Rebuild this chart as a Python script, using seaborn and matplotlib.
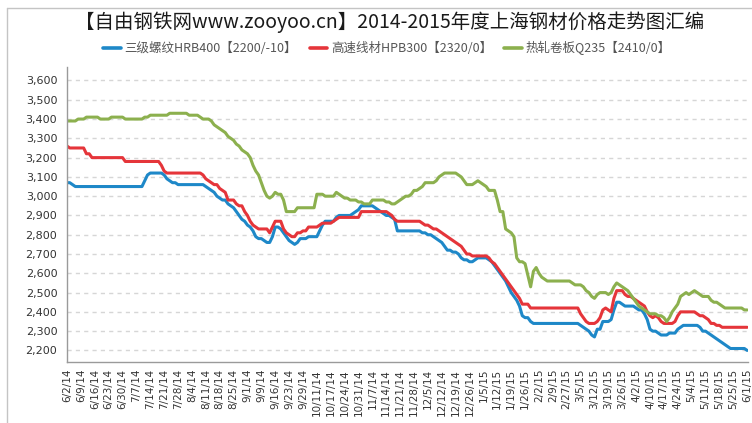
import matplotlib
matplotlib.use("Agg")
import matplotlib.pyplot as plt
import seaborn as sns
import pandas as pd
from matplotlib.lines import Line2D
from matplotlib.ticker import StrMethodFormatter

# ---- data (one value per trading day) ----
tick_labels = ["6/2/14", "6/9/14", "6/16/14", "6/23/14", "6/30/14", "7/7/14", "7/14/14",
               "7/21/14", "7/28/14", "8/4/14", "8/11/14", "8/18/14", "8/25/14", "9/1/14",
               "9/9/14", "9/16/14", "9/23/14", "9/29/14", "10/11/14", "10/17/14", "10/24/14",
               "10/31/14", "11/7/14", "11/14/14", "11/21/14", "11/28/14", "12/5/14", "12/12/14",
               "12/19/14", "12/26/14", "1/5/15", "1/12/15", "1/19/15", "1/26/15", "2/2/15",
               "2/9/15", "2/27/15", "3/5/15", "3/12/15", "3/19/15", "3/26/15", "4/2/15",
               "4/10/15", "4/17/15", "4/24/15", "5/4/15", "5/11/15", "5/18/15", "5/25/15", "6/1/15"]

hrb400 = [
    3070, 3070, 3060, 3050, 3050, 3050, 3050, 3050, 3050, 3050,
    3050, 3050, 3050, 3050, 3050, 3050, 3050, 3050, 3050, 3050,
    3050, 3050, 3050, 3050, 3050, 3050, 3050, 3050, 3080, 3110,
    3120, 3120, 3120, 3120, 3120, 3110, 3090, 3080, 3070, 3070,
    3060, 3060, 3060, 3060, 3060, 3060, 3060, 3060, 3060, 3060,
    3050, 3040, 3030, 3020, 3000, 2990, 2980, 2980, 2960, 2950,
    2940, 2920, 2900, 2880, 2870, 2850, 2840, 2820, 2790, 2780,
    2780, 2770, 2760, 2760, 2790, 2840, 2840, 2830, 2810, 2790,
    2770, 2760, 2750, 2760, 2780, 2780, 2780, 2790, 2790, 2790,
    2790, 2820, 2850, 2870, 2870, 2870, 2870, 2890, 2900, 2900,
    2900, 2900, 2900, 2910, 2920, 2930, 2950, 2950, 2950, 2950,
    2950, 2940, 2930, 2920, 2910, 2900, 2900, 2890, 2880, 2820,
    2820, 2820, 2820, 2820, 2820, 2820, 2820, 2820, 2810, 2810,
    2800, 2800, 2790, 2780, 2770, 2760, 2740, 2720, 2720, 2710,
    2710, 2700, 2680, 2670, 2670, 2660, 2660, 2670, 2680, 2680,
    2680, 2680, 2670, 2660, 2640, 2620, 2600, 2580, 2560, 2530,
    2500, 2480, 2460, 2430, 2380, 2370, 2370, 2350, 2340, 2340,
    2340, 2340, 2340, 2340, 2340, 2340, 2340, 2340, 2340, 2340,
    2340, 2340, 2340, 2340, 2340, 2330, 2320, 2310, 2300, 2280,
    2270, 2310, 2310, 2350, 2350, 2350, 2360, 2410, 2450, 2450,
    2440, 2430, 2430, 2430, 2430, 2420, 2410, 2410, 2390, 2360,
    2310, 2300, 2300, 2290, 2280, 2280, 2280, 2290, 2290, 2290,
    2310, 2320, 2330, 2330, 2330, 2330, 2330, 2330, 2320, 2300,
    2300, 2290, 2280, 2270, 2260, 2250, 2240, 2230, 2220, 2210,
    2210, 2210, 2210, 2210, 2210, 2200,
]

hpb300 = [
    3260, 3250, 3250, 3250, 3250, 3250, 3250, 3220, 3220, 3200,
    3200, 3200, 3200, 3200, 3200, 3200, 3200, 3200, 3200, 3200,
    3200, 3180, 3180, 3180, 3180, 3180, 3180, 3180, 3180, 3180,
    3180, 3180, 3180, 3180, 3160, 3130, 3120, 3120, 3120, 3120,
    3120, 3120, 3120, 3120, 3120, 3120, 3120, 3120, 3120, 3110,
    3090, 3080, 3070, 3060, 3060, 3040, 3030, 3020, 2980, 2980,
    2980, 2960, 2950, 2950, 2920, 2900, 2870, 2850, 2840, 2830,
    2830, 2830, 2830, 2810, 2840, 2870, 2870, 2870, 2830, 2810,
    2800, 2790, 2790, 2810, 2810, 2820, 2820, 2840, 2840, 2840,
    2840, 2850, 2860, 2860, 2860, 2860, 2870, 2880, 2890, 2890,
    2890, 2890, 2890, 2890, 2890, 2890, 2920, 2920, 2920, 2920,
    2920, 2920, 2920, 2920, 2920, 2920, 2910, 2900, 2880, 2870,
    2870, 2870, 2870, 2870, 2870, 2870, 2870, 2870, 2860, 2850,
    2850, 2840, 2830, 2830, 2820, 2810, 2800, 2790, 2780, 2770,
    2760, 2750, 2740, 2720, 2700, 2700, 2690, 2690, 2690, 2690,
    2690, 2690, 2680, 2660, 2650, 2630, 2610, 2590, 2570, 2550,
    2530, 2510, 2490, 2470, 2440, 2440, 2440, 2420, 2420, 2420,
    2420, 2420, 2420, 2420, 2420, 2420, 2420, 2420, 2420, 2420,
    2420, 2420, 2420, 2420, 2420, 2390, 2370, 2350, 2340, 2340,
    2340, 2350, 2370, 2410, 2420, 2410, 2400, 2470, 2510, 2510,
    2510, 2490, 2480, 2480, 2470, 2460, 2450, 2440, 2430, 2400,
    2380, 2370, 2380, 2370, 2350, 2340, 2340, 2340, 2340, 2350,
    2380, 2400, 2400, 2400, 2400, 2400, 2400, 2390, 2380, 2380,
    2370, 2360, 2340, 2340, 2330, 2330, 2320, 2320, 2320, 2320,
    2320, 2320, 2320, 2320, 2320, 2320,
]

q235 = [
    3390, 3390, 3390, 3390, 3400, 3400, 3400, 3410, 3410, 3410,
    3410, 3410, 3400, 3400, 3400, 3400, 3410, 3410, 3410, 3410,
    3410, 3400, 3400, 3400, 3400, 3400, 3400, 3400, 3410, 3410,
    3420, 3420, 3420, 3420, 3420, 3420, 3420, 3430, 3430, 3430,
    3430, 3430, 3430, 3430, 3420, 3420, 3420, 3420, 3410, 3400,
    3400, 3400, 3390, 3370, 3360, 3350, 3340, 3330, 3310, 3300,
    3290, 3270, 3260, 3240, 3230, 3220, 3200, 3160, 3130, 3110,
    3070, 3030, 3000, 2990, 3000, 3020, 3010, 3010, 2980, 2920,
    2920, 2920, 2920, 2940, 2940, 2940, 2940, 2940, 2940, 2940,
    3010, 3010, 3010, 3000, 3000, 3000, 3000, 3020, 3010, 3000,
    2990, 2990, 2980, 2980, 2980, 2970, 2970, 2960, 2960, 2960,
    2980, 2980, 2980, 2980, 2980, 2970, 2970, 2960, 2960, 2970,
    2980, 2990, 3000, 3000, 3010, 3030, 3030, 3040, 3050, 3070,
    3070, 3070, 3070, 3080, 3100, 3110, 3120, 3120, 3120, 3120,
    3120, 3110, 3100, 3080, 3060, 3060, 3060, 3070, 3080, 3070,
    3060, 3050, 3030, 3030, 3030, 2980, 2920, 2920, 2830, 2820,
    2810, 2790, 2680, 2660, 2660, 2650, 2590, 2530, 2610, 2630,
    2600, 2580, 2570, 2560, 2560, 2560, 2560, 2560, 2560, 2560,
    2560, 2560, 2550, 2540, 2540, 2540, 2530, 2510, 2500, 2480,
    2470, 2490, 2500, 2500, 2500, 2490, 2500, 2530, 2550, 2540,
    2530, 2520, 2510, 2490, 2470, 2450, 2430, 2420, 2410, 2400,
    2390, 2390, 2390, 2380, 2380, 2370, 2350, 2370, 2400, 2420,
    2440, 2480, 2490, 2500, 2490, 2500, 2510, 2500, 2490, 2480,
    2480, 2480, 2460, 2450, 2450, 2440, 2430, 2420, 2420, 2420,
    2420, 2420, 2420, 2420, 2410, 2410,
]

series_names = ["三级螺纹HRB400【2200/-10】", "高速线材HPB300【2320/0】", "热轧卷板Q235【2410/0】"]
series_colors = ["#1e88c8", "#e5353a", "#8cb04e"]
title_text = "【自由钢铁网www.zooyoo.cn】2014-2015年度上海钢材价格走势图汇编"

# ---- build long table ----
frames = []
for name, vals in zip(series_names, [hrb400, hpb300, q235]):
    frames.append(pd.DataFrame({"idx": range(len(vals)), "price": vals, "series": name}))
df = pd.concat(frames, ignore_index=True)

sns.set_theme(style="white")
plt.rcParams["font.family"] = ["Noto Sans CJK SC", "DejaVu Sans"]

W, H = 752, 423
fig = plt.figure(figsize=(W / 100, H / 100), dpi=100)
fig.patch.set_facecolor("white")
ax = fig.add_axes([67 / W, 1 - 362 / H, (748 - 67) / W, (362 - 67) / H])

sns.lineplot(data=df, x="idx", y="price", hue="series", hue_order=series_names,
             palette=dict(zip(series_names, series_colors)), estimator=None,
             linewidth=2.2, legend=False, ax=ax)

n = len(hrb400)
ax.set_xlim(0, n - 0.7)
ax.set_ylim(2140, 3670)
ax.set_yticks(range(2200, 3700, 100))
ax.yaxis.set_major_formatter(StrMethodFormatter("{x:,.0f}"))
ax.set_xticks(range(0, n, 5))
ax.set_xticklabels(tick_labels, rotation=90)
ax.set_xticks(range(n), minor=True)
ax.set_xlabel("")
ax.set_ylabel("")

for lab in ax.get_xticklabels() + ax.get_yticklabels():
    lab.set_fontfamily("DejaVu Sans")
    lab.set_color("#333333")
ax.tick_params(axis="x", which="both", length=3, width=0.8, color="#9a9a9a", pad=2, labelsize=7.5)
ax.tick_params(axis="y", which="major", length=4, width=0.8, color="#9a9a9a", pad=3, labelsize=8)

ax.grid(False)
ax.yaxis.grid(True, linestyle=(0, (3, 3)), color="#d6d6d6", linewidth=1)
ax.set_axisbelow(True)
for s in ["top", "right"]:
    ax.spines[s].set_visible(False)
for s in ["left", "bottom"]:
    ax.spines[s].set_color("#9a9a9a")
    ax.spines[s].set_linewidth(1)

# title
fig.text(390 / W, 1 - 22 / H, title_text, ha="center", va="center", fontsize=14, color="#1a1a1a")

# legend
handles = [Line2D([0], [0], color=c, lw=2.6) for c in series_colors]
fig.legend(handles, series_names, loc="center", bbox_to_anchor=(387 / W, 1 - 48 / H),
           ncol=3, frameon=False, fontsize=9, handlelength=1.4, handletextpad=0.3,
           columnspacing=1.0, labelcolor="#555555")

# outer frame lines (left and top)
fig.add_artist(Line2D([7 / W, 7 / W], [0, 1 - 8 / H], transform=fig.transFigure,
                      color="#c4c4c4", lw=1))
fig.add_artist(Line2D([7 / W, 1], [1 - 8 / H, 1 - 8 / H], transform=fig.transFigure,
                      color="#c4c4c4", lw=1))

fig.savefig("out.png", dpi=100)
